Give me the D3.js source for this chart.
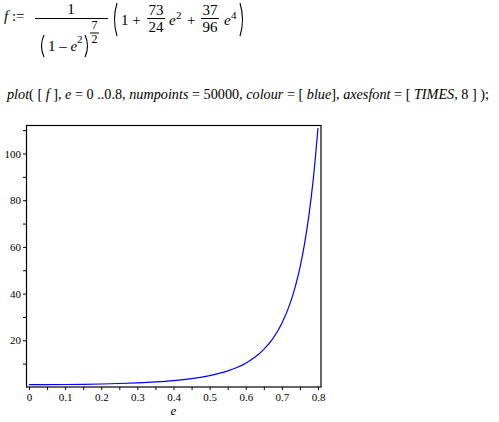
<!DOCTYPE html>
<html>
<head>
<meta charset="utf-8">
<script src="https://cdn.jsdelivr.net/npm/d3@7"></script>
<style>
  body { margin: 0; background: #fff; }
  svg { display: block; }
  text { font-family: 'Liberation Serif', 'Times New Roman', serif; fill: #000; }
  .it { font-style: italic; }
</style>
</head>
<body>
<div class="maple"></div>
<script>
'use strict'

const width = 499
const height = 422

// values of f, e from 0 to 0.8
const eValues = [0, 0.05, 0.1, 0.15, 0.2, 0.25, 0.3, 0.35, 0.4, 0.45, 0.5, 0.55, 0.6,
  0.625, 0.65, 0.675, 0.7, 0.725, 0.7375, 0.75, 0.7625, 0.775, 0.7875, 0.8]
const fValues = [1.0, 1.02, 1.07, 1.16, 1.29, 1.49, 1.78, 2.18, 2.75, 3.6, 4.88, 6.9, 10.2,
  12.7, 16.1, 20.7, 27.3, 36.8, 43.2, 51.1, 61.1, 73.7, 89.9, 110.9]

const xMajor = [0, 0.1, 0.2, 0.3, 0.4, 0.5, 0.6, 0.7, 0.8]
const xMinor = [0.05, 0.15, 0.25, 0.35, 0.45, 0.55, 0.65, 0.75]
const yMajor = [20, 40, 60, 80, 100]
const yMinor = [10, 30, 50, 70, 90, 110]

const svg = d3.select('.maple').append('svg')
    .attr('width', width)
    .attr('height', height)

// ---- formula: f := 1/(1-e^2)^(7/2) (1 + 73/24 e^2 + 37/96 e^4)
const eq = svg.append('g')
const fs = 15

eq.append('text').attr('x', 4).attr('y', 21).attr('font-size', fs)
  .html('<tspan class="it">f</tspan> :=')

function frac(x, num, den, yBar, w, size) {
  eq.append('text').attr('x', x + w / 2).attr('y', yBar - 4)
    .attr('text-anchor', 'middle').attr('font-size', size).text(num)
  eq.append('line').attr('x1', x).attr('x2', x + w)
    .attr('y1', yBar).attr('y2', yBar).attr('stroke', '#000')
  eq.append('text').attr('x', x + w / 2).attr('y', yBar + size - 2)
    .attr('text-anchor', 'middle').attr('font-size', size).text(den)
}

// tall round bracket drawn as a thin crescent
function paren(x0, top, bottom, dir) {
  const mid = (top + bottom) / 2
  const bulge = x0 - dir * 5
  eq.append('path')
    .attr('d', 'M' + x0 + ',' + top + 'Q' + bulge + ',' + mid + ' ' + x0 + ',' + bottom)
    .attr('fill', 'none').attr('stroke', '#000').attr('stroke-width', 1.1)
}

// main fraction
eq.append('text').attr('x', 71).attr('y', 14).attr('text-anchor', 'middle')
  .attr('font-size', fs).text('1')
eq.append('line').attr('x1', 35).attr('x2', 108).attr('y1', 18.5).attr('y2', 18.5)
  .attr('stroke', '#000')
paren(44, 35, 57, 1)
eq.append('text').attr('x', 48).attr('y', 51).attr('font-size', fs)
  .html('1 \u2013 <tspan class="it">e</tspan>')
eq.append('text').attr('x', 77).attr('y', 43).attr('font-size', 11).text('2')
paren(85, 35, 57, -1)
frac(90, '7', '2', 33, 9, 12)

// big parentheses
paren(117, 3, 36, 1)
paren(240, 3, 36, -1)

eq.append('text').attr('x', 121).attr('y', 25).attr('font-size', fs).text('1 +')
frac(147, '73', '24', 18.5, 18, fs)
eq.append('text').attr('x', 169).attr('y', 25).attr('font-size', fs).attr('class', 'it').text('e')
eq.append('text').attr('x', 176).attr('y', 19).attr('font-size', 11).text('2')
eq.append('text').attr('x', 187).attr('y', 25).attr('font-size', fs).text('+')
frac(201, '37', '96', 18.5, 18, fs)
eq.append('text').attr('x', 224).attr('y', 25).attr('font-size', fs).attr('class', 'it').text('e')
eq.append('text').attr('x', 231).attr('y', 19).attr('font-size', 11).text('4')

// ---- command line
svg.append('text').attr('x', 7).attr('y', 99).attr('font-size', 14.5)
  .attr('textLength', 482).attr('lengthAdjust', 'spacingAndGlyphs')
  .html('<tspan class="it">plot</tspan>( [ <tspan class="it">f</tspan> ], <tspan class="it">e</tspan> = 0 ..0.8,  ' +
    '<tspan class="it">numpoints</tspan> = 50000, <tspan class="it">colour</tspan> = [ <tspan class="it">blue</tspan>], ' +
    '<tspan class="it">axesfont</tspan> = [ <tspan class="it">TIMES</tspan>, 8 ] );')

// ---- plot
const x = d3.scaleLinear().domain([0, 0.8]).range([29, 318])
const y = d3.scaleLinear().domain([0, 112]).range([387, 125.5])

const plot = svg.append('g')

const tickLen = 3
plot.append('g')
    .attr('transform', 'translate(0,387)')
    .call(d3.axisBottom(x).tickValues(xMajor).tickSize(tickLen).tickPadding(3)
      .tickFormat(d => d === 0 ? '0' : d3.format('.1f')(d)))
plot.append('g')
    .attr('transform', 'translate(0,387)')
    .call(d3.axisBottom(x).tickValues(xMinor).tickSize(tickLen).tickFormat(''))
plot.append('g')
    .attr('transform', 'translate(26,0)')
    .call(d3.axisLeft(y).tickValues(yMajor).tickSize(tickLen).tickPadding(2))
plot.append('g')
    .attr('transform', 'translate(26,0)')
    .call(d3.axisLeft(y).tickValues(yMinor).tickSize(tickLen).tickFormat(''))

plot.selectAll('.domain').remove()
plot.selectAll('.tick text')
    .attr('font-family', "'Liberation Serif', serif")
    .attr('font-size', 11)
    .attr('fill', '#000')
plot.selectAll('.tick line').attr('stroke', '#000')

// box frame
plot.append('rect')
    .attr('x', 26.5).attr('y', 125.5)
    .attr('width', 321 - 26.5).attr('height', 387 - 125.5)
    .attr('fill', 'none').attr('stroke', '#000').attr('stroke-width', 1.2)

const line = d3.line()
    .x((d, i) => x(eValues[i]))
    .y(d => y(d))
    .curve(d3.curveMonotoneX)

plot.append('path')
    .datum(fValues)
    .attr('d', line)
    .attr('fill', 'none')
    .attr('stroke', '#0000ff')
    .attr('stroke-width', 1.2)

svg.append('text')
    .attr('x', x(0.4)).attr('y', 415)
    .attr('text-anchor', 'middle')
    .attr('font-size', 13)
    .attr('class', 'it')
    .text('e')
</script>
</body>
</html>
